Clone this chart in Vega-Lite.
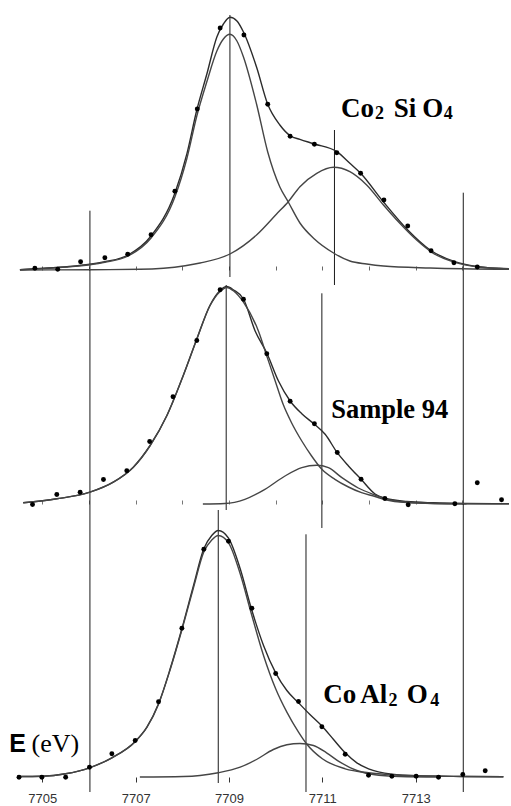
{
  "$schema": "https://vega.github.io/schema/vega-lite/v6.json",
  "padding": 0,
  "spacing": 0,
  "bounds": "flush",
  "background": "white",
  "config": {"view": {"stroke": null}, "concat": {"spacing": 0}},
  "datasets": {
    "curves": [
      {"panel":"A","series":"sum","E":7704.52,"I":0.3},{"panel":"A","series":"sum","E":7704.84,"I":1.3},{"panel":"A","series":"sum","E":7705.53,"I":3.3},{"panel":"A","series":"sum","E":7706.02,"I":5.7},{"panel":"A","series":"sum","E":7706.34,"I":8.3},{"panel":"A","series":"sum","E":7706.84,"I":15},{"panel":"A","series":"sum","E":7707.33,"I":34},{"panel":"A","series":"sum","E":7707.84,"I":76.7},{"panel":"A","series":"sum","E":7708.10,"I":116.7},{"panel":"A","series":"sum","E":7708.31,"I":160},{"panel":"A","series":"sum","E":7708.53,"I":196.7},{"panel":"A","series":"sum","E":7708.74,"I":233},{"panel":"A","series":"sum","E":7708.88,"I":246},{"panel":"A","series":"sum","E":7709.02,"I":252.7},{"panel":"A","series":"sum","E":7709.17,"I":249},{"panel":"A","series":"sum","E":7709.31,"I":238},{"panel":"A","series":"sum","E":7709.59,"I":203},{"panel":"A","series":"sum","E":7709.83,"I":165.7},{"panel":"A","series":"sum","E":7710.09,"I":145},{"panel":"A","series":"sum","E":7710.32,"I":134},{"panel":"A","series":"sum","E":7710.52,"I":130.7},{"panel":"A","series":"sum","E":7710.83,"I":126},{"panel":"A","series":"sum","E":7711.31,"I":118.3},{"panel":"A","series":"sum","E":7711.59,"I":106.7},{"panel":"A","series":"sum","E":7711.82,"I":96.7},{"panel":"A","series":"sum","E":7712.31,"I":68},{"panel":"A","series":"sum","E":7712.83,"I":40},{"panel":"A","series":"sum","E":7713.31,"I":20},{"panel":"A","series":"sum","E":7713.84,"I":8.3},{"panel":"A","series":"sum","E":7714.31,"I":3.5},{"panel":"A","series":"sum","E":7715.0,"I":1},
      {"panel":"A","series":"c1","E":7704.52,"I":0.2},{"panel":"A","series":"c1","E":7704.84,"I":1.0},{"panel":"A","series":"c1","E":7705.53,"I":3.0},{"panel":"A","series":"c1","E":7706.02,"I":5.3},{"panel":"A","series":"c1","E":7706.34,"I":7.7},{"panel":"A","series":"c1","E":7706.84,"I":14},{"panel":"A","series":"c1","E":7707.33,"I":32},{"panel":"A","series":"c1","E":7707.84,"I":73},{"panel":"A","series":"c1","E":7708.10,"I":112},{"panel":"A","series":"c1","E":7708.31,"I":154},{"panel":"A","series":"c1","E":7708.53,"I":189},{"panel":"A","series":"c1","E":7708.74,"I":219},{"panel":"A","series":"c1","E":7708.88,"I":231},{"panel":"A","series":"c1","E":7709.02,"I":235.7},{"panel":"A","series":"c1","E":7709.17,"I":229},{"panel":"A","series":"c1","E":7709.31,"I":213},{"panel":"A","series":"c1","E":7709.59,"I":166},{"panel":"A","series":"c1","E":7709.83,"I":118},{"panel":"A","series":"c1","E":7710.09,"I":83},{"panel":"A","series":"c1","E":7710.27,"I":68},{"panel":"A","series":"c1","E":7710.52,"I":47},{"panel":"A","series":"c1","E":7710.83,"I":31},{"panel":"A","series":"c1","E":7711.24,"I":17},{"panel":"A","series":"c1","E":7711.59,"I":9},{"panel":"A","series":"c1","E":7711.95,"I":6},{"panel":"A","series":"c1","E":7712.31,"I":4},{"panel":"A","series":"c1","E":7713.31,"I":2},{"panel":"A","series":"c1","E":7715.0,"I":0.7},
      {"panel":"A","series":"c2","E":7704.52,"I":0},{"panel":"A","series":"c2","E":7706.02,"I":0.3},{"panel":"A","series":"c2","E":7707.09,"I":0.7},{"panel":"A","series":"c2","E":7708.06,"I":4.3},{"panel":"A","series":"c2","E":7708.38,"I":7},{"panel":"A","series":"c2","E":7709.02,"I":16},{"panel":"A","series":"c2","E":7709.59,"I":35},{"panel":"A","series":"c2","E":7710.02,"I":56},{"panel":"A","series":"c2","E":7710.27,"I":68.3},{"panel":"A","series":"c2","E":7710.52,"I":83.3},{"panel":"A","series":"c2","E":7710.88,"I":96.7},{"panel":"A","series":"c2","E":7711.24,"I":102.7},{"panel":"A","series":"c2","E":7711.59,"I":98.3},{"panel":"A","series":"c2","E":7711.95,"I":85},{"panel":"A","series":"c2","E":7712.31,"I":65},{"panel":"A","series":"c2","E":7712.66,"I":46.7},{"panel":"A","series":"c2","E":7713.02,"I":30},{"panel":"A","series":"c2","E":7713.38,"I":16.7},{"panel":"A","series":"c2","E":7713.84,"I":7.7},{"panel":"A","series":"c2","E":7714.31,"I":3.3},{"panel":"A","series":"c2","E":7715.0,"I":1.3},
      {"panel":"B","series":"sum","E":7704.59,"I":1.2},{"panel":"B","series":"sum","E":7705.31,"I":5.2},{"panel":"B","series":"sum","E":7706.02,"I":11.8},{"panel":"B","series":"sum","E":7706.52,"I":21.8},{"panel":"B","series":"sum","E":7706.95,"I":36.8},{"panel":"B","series":"sum","E":7707.31,"I":58.5},{"panel":"B","series":"sum","E":7707.67,"I":88.5},{"panel":"B","series":"sum","E":7708.02,"I":128.5},{"panel":"B","series":"sum","E":7708.31,"I":165},{"panel":"B","series":"sum","E":7708.59,"I":198.5},{"panel":"B","series":"sum","E":7708.81,"I":213.5},{"panel":"B","series":"sum","E":7708.95,"I":217.5},{"panel":"B","series":"sum","E":7709.10,"I":214},{"panel":"B","series":"sum","E":7709.31,"I":205},{"panel":"B","series":"sum","E":7709.56,"I":173},{"panel":"B","series":"sum","E":7709.81,"I":151},{"panel":"B","series":"sum","E":7710.06,"I":123},{"panel":"B","series":"sum","E":7710.31,"I":103},{"panel":"B","series":"sum","E":7710.56,"I":90.3},{"panel":"B","series":"sum","E":7710.83,"I":79.7},{"panel":"B","series":"sum","E":7711.06,"I":69.7},{"panel":"B","series":"sum","E":7711.32,"I":51.3},{"panel":"B","series":"sum","E":7711.56,"I":38},{"panel":"B","series":"sum","E":7711.83,"I":24.7},{"panel":"B","series":"sum","E":7712.13,"I":10},{"panel":"B","series":"sum","E":7712.33,"I":6},{"panel":"B","series":"sum","E":7712.81,"I":2.5},{"panel":"B","series":"sum","E":7713.38,"I":1.2},{"panel":"B","series":"sum","E":7714.09,"I":0.5},{"panel":"B","series":"sum","E":7715.0,"I":0.2},
      {"panel":"B","series":"c1","E":7704.59,"I":1.2},{"panel":"B","series":"c1","E":7705.31,"I":5.2},{"panel":"B","series":"c1","E":7706.02,"I":11.8},{"panel":"B","series":"c1","E":7706.52,"I":21.8},{"panel":"B","series":"c1","E":7706.95,"I":36.8},{"panel":"B","series":"c1","E":7707.31,"I":58.5},{"panel":"B","series":"c1","E":7707.67,"I":88.5},{"panel":"B","series":"c1","E":7708.02,"I":128.5},{"panel":"B","series":"c1","E":7708.31,"I":164.8},{"panel":"B","series":"c1","E":7708.59,"I":198},{"panel":"B","series":"c1","E":7708.81,"I":212.5},{"panel":"B","series":"c1","E":7708.95,"I":216.5},{"panel":"B","series":"c1","E":7709.10,"I":213},{"panel":"B","series":"c1","E":7709.31,"I":201.8},{"panel":"B","series":"c1","E":7709.63,"I":173},{"panel":"B","series":"c1","E":7709.81,"I":148},{"panel":"B","series":"c1","E":7709.99,"I":123},{"panel":"B","series":"c1","E":7710.16,"I":99.7},{"panel":"B","series":"c1","E":7710.34,"I":81.3},{"panel":"B","series":"c1","E":7710.56,"I":63},{"panel":"B","series":"c1","E":7710.77,"I":48},{"panel":"B","series":"c1","E":7710.99,"I":34.7},{"panel":"B","series":"c1","E":7711.27,"I":24.7},{"panel":"B","series":"c1","E":7711.56,"I":17},{"panel":"B","series":"c1","E":7711.84,"I":11.3},{"panel":"B","series":"c1","E":7712.13,"I":7.5},{"panel":"B","series":"c1","E":7712.33,"I":4.5},{"panel":"B","series":"c1","E":7712.81,"I":1.5},{"panel":"B","series":"c1","E":7714.09,"I":0.2},{"panel":"B","series":"c1","E":7715.0,"I":0.1},
      {"panel":"B","series":"c2","E":7708.44,"I":0},{"panel":"B","series":"c2","E":7708.91,"I":0.5},{"panel":"B","series":"c2","E":7709.34,"I":4.7},{"panel":"B","series":"c2","E":7709.77,"I":14.7},{"panel":"B","series":"c2","E":7710.20,"I":28},{"panel":"B","series":"c2","E":7710.56,"I":36.3},{"panel":"B","series":"c2","E":7710.88,"I":38.7},{"panel":"B","series":"c2","E":7711.13,"I":36.3},{"panel":"B","series":"c2","E":7711.42,"I":26.3},{"panel":"B","series":"c2","E":7711.77,"I":16},{"panel":"B","series":"c2","E":7712.13,"I":9},{"panel":"B","series":"c2","E":7712.36,"I":5.2},{"panel":"B","series":"c2","E":7712.81,"I":1.8},{"panel":"B","series":"c2","E":7713.38,"I":0.5},{"panel":"B","series":"c2","E":7714.09,"I":0.1},
      {"panel":"C","series":"sum","E":7704.49,"I":0.5},{"panel":"C","series":"sum","E":7704.99,"I":0.8},{"panel":"C","series":"sum","E":7705.50,"I":3.2},{"panel":"C","series":"sum","E":7706.01,"I":9.2},{"panel":"C","series":"sum","E":7706.49,"I":19.2},{"panel":"C","series":"sum","E":7706.99,"I":35.5},{"panel":"C","series":"sum","E":7707.24,"I":49.8},{"panel":"C","series":"sum","E":7707.49,"I":73.2},{"panel":"C","series":"sum","E":7707.74,"I":108.2},{"panel":"C","series":"sum","E":7707.99,"I":148.2},{"panel":"C","series":"sum","E":7708.24,"I":191.5},{"panel":"C","series":"sum","E":7708.46,"I":228.2},{"panel":"C","series":"sum","E":7708.63,"I":241.5},{"panel":"C","series":"sum","E":7708.77,"I":246.5},{"panel":"C","series":"sum","E":7708.99,"I":238.8},{"panel":"C","series":"sum","E":7709.24,"I":208.2},{"panel":"C","series":"sum","E":7709.47,"I":169.8},{"panel":"C","series":"sum","E":7709.74,"I":131.5},{"panel":"C","series":"sum","E":7710.00,"I":104.2},{"panel":"C","series":"sum","E":7710.24,"I":86.5},{"panel":"C","series":"sum","E":7710.49,"I":74.2},{"panel":"C","series":"sum","E":7710.74,"I":62.2},{"panel":"C","series":"sum","E":7711.00,"I":50.5},{"panel":"C","series":"sum","E":7711.24,"I":37.5},{"panel":"C","series":"sum","E":7711.49,"I":24.2},{"panel":"C","series":"sum","E":7711.74,"I":14.2},{"panel":"C","series":"sum","E":7711.99,"I":8.2},{"panel":"C","series":"sum","E":7712.49,"I":2.8},{"panel":"C","series":"sum","E":7713.01,"I":1.2},{"panel":"C","series":"sum","E":7714.02,"I":0.5},{"panel":"C","series":"sum","E":7714.88,"I":0.2},
      {"panel":"C","series":"c1","E":7704.49,"I":0.5},{"panel":"C","series":"c1","E":7704.99,"I":0.8},{"panel":"C","series":"c1","E":7705.50,"I":3.2},{"panel":"C","series":"c1","E":7706.01,"I":9.2},{"panel":"C","series":"c1","E":7706.49,"I":19.2},{"panel":"C","series":"c1","E":7706.99,"I":35.3},{"panel":"C","series":"c1","E":7707.24,"I":49.5},{"panel":"C","series":"c1","E":7707.49,"I":72.8},{"panel":"C","series":"c1","E":7707.74,"I":107.5},{"panel":"C","series":"c1","E":7707.99,"I":147},{"panel":"C","series":"c1","E":7708.24,"I":189.5},{"panel":"C","series":"c1","E":7708.46,"I":225},{"panel":"C","series":"c1","E":7708.63,"I":237},{"panel":"C","series":"c1","E":7708.77,"I":241.5},{"panel":"C","series":"c1","E":7708.99,"I":234.2},{"panel":"C","series":"c1","E":7709.24,"I":203.2},{"panel":"C","series":"c1","E":7709.47,"I":164.8},{"panel":"C","series":"c1","E":7709.74,"I":121.5},{"panel":"C","series":"c1","E":7710.00,"I":88.2},{"panel":"C","series":"c1","E":7710.24,"I":64.8},{"panel":"C","series":"c1","E":7710.49,"I":44.8},{"panel":"C","series":"c1","E":7710.66,"I":33.2},{"panel":"C","series":"c1","E":7711.00,"I":18.2},{"panel":"C","series":"c1","E":7711.49,"I":8.2},{"panel":"C","series":"c1","E":7711.99,"I":4.2},{"panel":"C","series":"c1","E":7712.49,"I":2.2},{"panel":"C","series":"c1","E":7713.01,"I":1.2},{"panel":"C","series":"c1","E":7714.02,"I":0.5},{"panel":"C","series":"c1","E":7714.88,"I":0.2},
      {"panel":"C","series":"c2","E":7707.09,"I":0},{"panel":"C","series":"c2","E":7708.02,"I":0.5},{"panel":"C","series":"c2","E":7708.38,"I":1.5},{"panel":"C","series":"c2","E":7708.77,"I":4.2},{"panel":"C","series":"c2","E":7709.24,"I":9.8},{"panel":"C","series":"c2","E":7709.59,"I":17.5},{"panel":"C","series":"c2","E":7709.95,"I":27.5},{"panel":"C","series":"c2","E":7710.24,"I":32.2},{"panel":"C","series":"c2","E":7710.52,"I":33.5},{"panel":"C","series":"c2","E":7710.81,"I":31.5},{"panel":"C","series":"c2","E":7711.09,"I":24.2},{"panel":"C","series":"c2","E":7711.38,"I":14.8},{"panel":"C","series":"c2","E":7711.74,"I":6.5},{"panel":"C","series":"c2","E":7712.09,"I":2.5},{"panel":"C","series":"c2","E":7712.66,"I":0.5},{"panel":"C","series":"c2","E":7713.5,"I":0}
    ],
    "points": [
      {"panel":"A","E":7704.84,"I":1.7},{"panel":"A","E":7705.33,"I":0.7},{"panel":"A","E":7705.82,"I":8.3},{"panel":"A","E":7706.34,"I":12.3},{"panel":"A","E":7706.83,"I":15.7},{"panel":"A","E":7707.33,"I":35.3},{"panel":"A","E":7707.84,"I":78.7},{"panel":"A","E":7708.32,"I":161},{"panel":"A","E":7708.81,"I":242},{"panel":"A","E":7709.32,"I":235},{"panel":"A","E":7709.83,"I":165.7},{"panel":"A","E":7710.31,"I":133.7},{"panel":"A","E":7710.83,"I":125.7},{"panel":"A","E":7711.31,"I":117.3},{"panel":"A","E":7711.82,"I":96.7},{"panel":"A","E":7712.32,"I":70},{"panel":"A","E":7712.83,"I":44},{"panel":"A","E":7713.33,"I":19.3},{"panel":"A","E":7713.82,"I":7.3},{"panel":"A","E":7714.32,"I":3},
      {"panel":"B","E":7704.79,"I":-0.5},{"panel":"B","E":7705.31,"I":9.5},{"panel":"B","E":7705.81,"I":11.8},{"panel":"B","E":7706.31,"I":24.5},{"panel":"B","E":7706.81,"I":33.2},{"panel":"B","E":7707.30,"I":62.5},{"panel":"B","E":7707.80,"I":107.2},{"panel":"B","E":7708.31,"I":163.5},{"panel":"B","E":7708.81,"I":214.2},{"panel":"B","E":7709.31,"I":204.8},{"panel":"B","E":7709.81,"I":150.2},{"panel":"B","E":7710.31,"I":102.8},{"panel":"B","E":7710.83,"I":80.2},{"panel":"B","E":7711.32,"I":51.5},{"panel":"B","E":7711.83,"I":24.8},{"panel":"B","E":7712.34,"I":5.5},{"panel":"B","E":7712.84,"I":-0.8},{"panel":"B","E":7713.84,"I":0.2},{"panel":"B","E":7714.32,"I":21.2},{"panel":"B","E":7714.84,"I":4.2},
      {"panel":"C","E":7704.50,"I":-0.2},{"panel":"C","E":7704.99,"I":-0.2},{"panel":"C","E":7705.50,"I":-0.2},{"panel":"C","E":7706.01,"I":9.8},{"panel":"C","E":7706.49,"I":23.2},{"panel":"C","E":7706.99,"I":36.5},{"panel":"C","E":7707.49,"I":75.2},{"panel":"C","E":7707.99,"I":148.8},{"panel":"C","E":7708.46,"I":227.8},{"panel":"C","E":7708.99,"I":235.8},{"panel":"C","E":7709.49,"I":168.8},{"panel":"C","E":7710.00,"I":103.5},{"panel":"C","E":7710.49,"I":75.5},{"panel":"C","E":7710.99,"I":50.2},{"panel":"C","E":7711.49,"I":22.8},{"panel":"C","E":7711.99,"I":1.8},{"panel":"C","E":7712.49,"I":0.8},{"panel":"C","E":7713.01,"I":0.8},{"panel":"C","E":7713.49,"I":-0.2},{"panel":"C","E":7714.01,"I":2.5},{"panel":"C","E":7714.49,"I":6.2}
    ],
    "rules": [
      {"panel":"A","E":7706.02,"top":59.3,"bottom":0},{"panel":"A","E":7714.02,"top":77.3,"bottom":0},{"panel":"A","E":7709.02,"top":255,"bottom":-7},{"panel":"A","E":7711.26,"top":140,"bottom":-15},
      {"panel":"B","E":7706.02,"top":234,"bottom":0},{"panel":"B","E":7714.02,"top":234,"bottom":0},{"panel":"B","E":7708.94,"top":219,"bottom":-6},{"panel":"B","E":7710.99,"top":210.7,"bottom":-24},
      {"panel":"C","E":7706.02,"top":273,"bottom":-15},{"panel":"C","E":7714.02,"top":273,"bottom":-15},{"panel":"C","E":7708.77,"top":267,"bottom":-6},{"panel":"C","E":7710.65,"top":242.7,"bottom":-15}
    ],
    "baselines": [
      {"panel":"A","E":7704.52,"E2":7715.0},
      {"panel":"B","E":7704.59,"E2":7715.0},
      {"panel":"C","E":7704.48,"E2":7714.91}
    ],
    "labels": [
      {"panel":"A","kind":"main","txt":"Co","E":7711.40,"I":153.3},{"panel":"A","kind":"sub","txt":"2","E":7712.13,"I":150.7},{"panel":"A","kind":"main","txt":"Si","E":7712.53,"I":153.3},{"panel":"A","kind":"main","txt":"O","E":7713.14,"I":153.3},{"panel":"A","kind":"sub","txt":"4","E":7713.60,"I":150.7},
      {"panel":"B","kind":"main","txt":"Sample 94","E":7711.19,"I":86},
      {"panel":"C","kind":"main","txt":"Co","E":7711.02,"I":73.7},{"panel":"C","kind":"main","txt":"Al","E":7711.81,"I":73.7},{"panel":"C","kind":"sub","txt":"2","E":7712.42,"I":71},{"panel":"C","kind":"main","txt":"O","E":7712.81,"I":73.7},{"panel":"C","kind":"sub","txt":"4","E":7713.31,"I":71},
      {"panel":"C","kind":"axisE","txt":"E","E":7704.29,"I":24.7},{"panel":"C","kind":"unit","txt":"(eV)","E":7704.77,"I":24.7}
    ]
  },
  "vconcat": [
    {
      "width": 509, "height": 270,
      "encoding": {
        "x": {"field":"E","type":"quantitative","scale":{"domain":[7704.093,7715.0],"nice":false,"zero":false},
              "axis":{"values":[7705,7706,7707,7708,7709,7710,7711,7712,7713,7714],"labels":false,"domain":false,"grid":false,"tickSize":-4,"tickColor":"#666","title":null}},
        "y": {"field":"I","type":"quantitative","scale":{"domain":[0,270],"nice":false,"zero":false},"axis":null}
      },
      "layer": [
        {"data":{"name":"baselines"},"transform":[{"filter":"datum.panel==='A'"}],"mark":{"type":"rule","color":"#555","strokeWidth":1.6},"encoding":{"x2":{"field":"E2"},"y":{"datum":0}}},
        {"data":{"name":"rules"},"transform":[{"filter":"datum.panel==='A'"}],"mark":{"type":"rule","color":"#1a1a1a","strokeWidth":1},"encoding":{"y":{"field":"top","type":"quantitative"},"y2":{"field":"bottom"}}},
        {"data":{"name":"curves"},"transform":[{"filter":"datum.panel==='A'"}],"mark":{"type":"line","interpolate":"monotone","strokeWidth":1.4},"encoding":{"detail":{"field":"series"},"color":{"field":"series","type":"nominal","scale":{"domain":["sum","c1","c2"],"range":["#2b2b2b","#454545","#454545"]},"legend":null}}},
        {"data":{"name":"points"},"transform":[{"filter":"datum.panel==='A'"}],"mark":{"type":"circle","size":24,"color":"#000","opacity":1}},
        {"data":{"name":"labels"},"transform":[{"filter":"datum.panel==='A' && datum.kind==='main'"}],"mark":{"type":"text","font":"Liberation Serif","fontWeight":"bold","fontSize":27,"align":"left","baseline":"alphabetic","color":"#000"},"encoding":{"text":{"field":"txt"}}},
        {"data":{"name":"labels"},"transform":[{"filter":"datum.panel==='A' && datum.kind==='sub'"}],"mark":{"type":"text","font":"Liberation Serif","fontWeight":"bold","fontSize":18,"align":"left","baseline":"alphabetic","color":"#000"},"encoding":{"text":{"field":"txt"}}}
      ]
    },
    {
      "width": 509, "height": 234,
      "encoding": {
        "x": {"field":"E","type":"quantitative","scale":{"domain":[7704.093,7715.0],"nice":false,"zero":false},
              "axis":{"values":[7705,7706,7707,7708,7709,7710,7711,7712,7713,7714],"labels":false,"domain":false,"grid":false,"tickSize":-4,"tickColor":"#777","title":null}},
        "y": {"field":"I","type":"quantitative","scale":{"domain":[0,234],"nice":false,"zero":false},"axis":null}
      },
      "layer": [
        {"data":{"name":"baselines"},"transform":[{"filter":"datum.panel==='B'"}],"mark":{"type":"rule","color":"#666","strokeWidth":1.4},"encoding":{"x2":{"field":"E2"},"y":{"datum":0}}},
        {"data":{"name":"rules"},"transform":[{"filter":"datum.panel==='B'"}],"mark":{"type":"rule","color":"#1a1a1a","strokeWidth":1},"encoding":{"y":{"field":"top","type":"quantitative"},"y2":{"field":"bottom"}}},
        {"data":{"name":"curves"},"transform":[{"filter":"datum.panel==='B'"}],"mark":{"type":"line","interpolate":"monotone","strokeWidth":1.4},"encoding":{"detail":{"field":"series"},"color":{"field":"series","type":"nominal","scale":{"domain":["sum","c1","c2"],"range":["#2b2b2b","#454545","#454545"]},"legend":null}}},
        {"data":{"name":"points"},"transform":[{"filter":"datum.panel==='B'"}],"mark":{"type":"circle","size":24,"color":"#000","opacity":1}},
        {"data":{"name":"labels"},"transform":[{"filter":"datum.panel==='B' && datum.kind==='main'"}],"mark":{"type":"text","font":"Liberation Serif","fontWeight":"bold","fontSize":26.5,"align":"left","baseline":"alphabetic","color":"#000"},"encoding":{"text":{"field":"txt"}}}
      ]
    },
    {
      "width": 509, "height": 273,
      "encoding": {
        "x": {"field":"E","type":"quantitative","scale":{"domain":[7704.093,7715.0],"nice":false,"zero":false},
              "axis":{"values":[7705,7707,7709,7711,7713],"format":"d","domain":false,"grid":false,"tickSize":5,"tickColor":"#333","labelFont":"Liberation Sans","labelFontSize":13,"labelColor":"#333","labelPadding":10,"title":null}},
        "y": {"field":"I","type":"quantitative","scale":{"domain":[0,273],"nice":false,"zero":false},"axis":null}
      },
      "layer": [
        {"data":{"name":"baselines"},"transform":[{"filter":"datum.panel==='C'"}],"mark":{"type":"rule","color":"#444","strokeWidth":1.4},"encoding":{"x2":{"field":"E2"},"y":{"datum":0}}},
        {"data":{"name":"rules"},"transform":[{"filter":"datum.panel==='C'"}],"mark":{"type":"rule","color":"#1a1a1a","strokeWidth":1},"encoding":{"y":{"field":"top","type":"quantitative"},"y2":{"field":"bottom"}}},
        {"data":{"name":"curves"},"transform":[{"filter":"datum.panel==='C'"}],"mark":{"type":"line","interpolate":"monotone","strokeWidth":1.4},"encoding":{"detail":{"field":"series"},"color":{"field":"series","type":"nominal","scale":{"domain":["sum","c1","c2"],"range":["#2b2b2b","#454545","#454545"]},"legend":null}}},
        {"data":{"name":"points"},"transform":[{"filter":"datum.panel==='C'"}],"mark":{"type":"circle","size":24,"color":"#000","opacity":1}},
        {"data":{"name":"labels"},"transform":[{"filter":"datum.panel==='C' && datum.kind==='main'"}],"mark":{"type":"text","font":"Liberation Serif","fontWeight":"bold","fontSize":27,"align":"left","baseline":"alphabetic","color":"#000"},"encoding":{"text":{"field":"txt"}}},
        {"data":{"name":"labels"},"transform":[{"filter":"datum.panel==='C' && datum.kind==='sub'"}],"mark":{"type":"text","font":"Liberation Serif","fontWeight":"bold","fontSize":18,"align":"left","baseline":"alphabetic","color":"#000"},"encoding":{"text":{"field":"txt"}}},
        {"data":{"name":"labels"},"transform":[{"filter":"datum.panel==='C' && datum.kind==='axisE'"}],"mark":{"type":"text","font":"Liberation Sans","fontWeight":"bold","fontSize":25,"align":"left","baseline":"alphabetic","color":"#000"},"encoding":{"text":{"field":"txt"}}},
        {"data":{"name":"labels"},"transform":[{"filter":"datum.panel==='C' && datum.kind==='unit'"}],"mark":{"type":"text","font":"Liberation Serif","fontSize":26,"align":"left","baseline":"alphabetic","color":"#000"},"encoding":{"text":{"field":"txt"}}}
      ]
    }
  ]
}
